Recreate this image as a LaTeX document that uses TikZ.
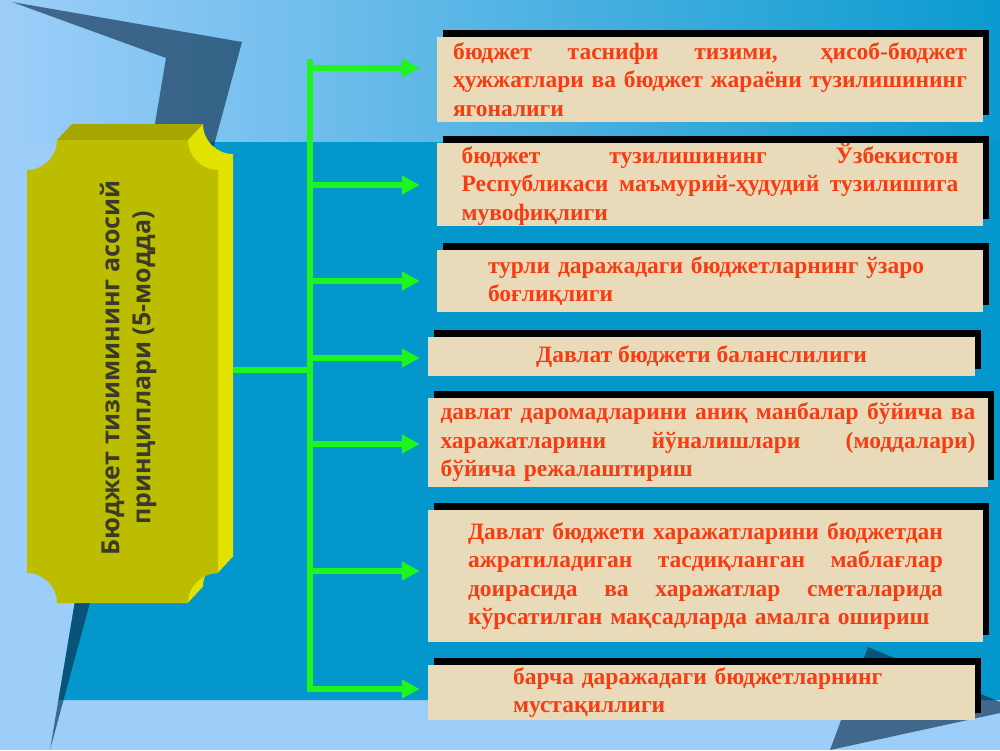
\documentclass[tikz,border=0pt]{standalone}
\usepackage{fontspec}
\usetikzlibrary{arrows.meta,shadows}
\newfontfamily\boxfont{Liberation Serif}
\newfontfamily\yfont{Open Sans}
\definecolor{lightbg}{HTML}{9DCEF9}
\definecolor{topdark}{HTML}{0A9ACF}
\definecolor{midblue}{HTML}{0397CB}
\definecolor{wedgec}{HTML}{0A2A48}
\definecolor{yfront}{HTML}{BDBD00}
\definecolor{ytop}{HTML}{A6A600}
\definecolor{yside}{HTML}{E2E200}
\definecolor{ytextc}{HTML}{3A3A2A}
\definecolor{beige}{HTML}{E9DBB9}
\definecolor{redtxt}{HTML}{F53C12}
\definecolor{conngreen}{HTML}{1DF51D}
\newcommand{\jl}[2]{\leavevmode\hbox to #1{\spaceskip=0.25em plus 1fil\relax\xspaceskip=0.25em plus 1fil\relax #2}}
\newcommand{\yshapepath}{(57,140) -- (188,140) arc[start angle=180,end angle=90,radius=30] -- (218,573) arc[start angle=270,end angle=180,radius=30] -- (57,603) arc[start angle=0,end angle=-90,radius=30] -- (27,170) arc[start angle=90,end angle=0,radius=30] -- cycle}
\begin{document}
\begin{tikzpicture}[x=1pt,y=-1pt,
  pbox/.style={fill=beige, inner sep=0pt, text=redtxt,
    font=\boxfont\bfseries\fontsize{23.5}{28.5}\selectfont, align=left,
    general shadow={fill=black, shadow xshift=6pt, shadow yshift=7pt}},
  conn/.style={draw=conngreen, line width=6pt},
  arr/.style={conn, -{Triangle[length=18pt,width=18pt]}},
  wedge/.style={fill=wedgec, opacity=0.62}
]
\useasboundingbox (0,0) rectangle (1000,750);
% background
\fill[lightbg] (0,0) rectangle (1000,750);
\shade[left color=lightbg, right color=topdark] (0,0) rectangle (1000,142);
\fill[midblue] (152,142) -- (1000,142) -- (1000,700) -- (58.4,700) -- cycle;
\fill[wedge] (12,2) -- (242,42) -- (50,750) -- (166,58) -- cycle;
\fill[wedge] (868,647) -- (1000,702) -- (1000,713) -- (830,750) -- cycle;
% yellow plaque
\begin{scope}
  \clip (186,100) rectangle (260,620);
  \foreach \i in {0,1,...,16} {\fill[yside, shift={({15*\i/16},{-\i})}] \yshapepath;}
\end{scope}
\fill[ytop] (57,140) -- (188,140) -- (203,124) -- (72,124) -- cycle;
\fill[yfront] \yshapepath;
\node[minimum width=206pt, minimum height=479pt, inner sep=0pt] (ybox) at (130,364.5) {};
\node[rotate=90, font=\yfont\bfseries\fontsize{25}{31}\selectfont, text=ytextc, align=center] (ytxt) at (128,368) {Бюджет тизимининг асосий\\принциплари (5-модда)};
% boxes
\node[pbox, minimum width=546pt, minimum height=85pt, text width=514pt] (b1) at (710,79.5)
  {\jl{514pt}{бюджет таснифи тизими, ҳисоб-бюджет}\\\jl{514pt}{ҳужжатлари ва бюджет жараёни тузилишининг}\\ягоналиги};
\node[pbox, minimum width=546pt, minimum height=83pt, text width=497pt] (b2) at (710,184.5)
  {\jl{497pt}{бюджет тузилишининг Ўзбекистон}\\\jl{497pt}{Республикаси маъмурий-ҳудудий тузилишига}\\мувофиқлиги};
\node[pbox, minimum width=546pt, minimum height=62pt, text width=444pt] (b3) at (710,281)
  {\mbox{турли даражадаги бюджетларнинг ўзаро}\\боғлиқлиги};
\node[pbox, minimum width=547pt, minimum height=39pt] (b4) at (701.5,356.5)
  {Давлат бюджети баланслилиги};
\node[pbox, minimum width=560pt, minimum height=89pt, text width=535pt] (b5) at (708,442.5)
  {\jl{535pt}{давлат даромадларини аниқ манбалар бўйича ва}\\\jl{535pt}{харажатларини йўналишлари (моддалари)}\\бўйича режалаштириш};
\node[pbox, minimum width=555pt, minimum height=132pt, text width=475pt] (b6) at (705.5,576)
  {\jl{475pt}{Давлат бюджети харажатларини бюджетдан}\\\jl{475pt}{ажратиладиган тасдиқланган маблағлар}\\\jl{475pt}{доирасида ва харажатлар сметаларида}\\кўрсатилган мақсадларда амалга ошириш};
\node[pbox, minimum width=547pt, minimum height=55pt, text width=377pt] (b7) at (701.5,692.5)
  {\mbox{барча даражадаги бюджетларнинг}\\мустақиллиги};
% connectors
\coordinate (jt) at (310,59);
\coordinate (jb) at (310,692);
\coordinate (jm) at (310,370);
\coordinate (j1) at (310,68);
\coordinate (j2) at (310,185);
\coordinate (j3) at (310,281);
\coordinate (j4) at (310,358);
\coordinate (j5) at (310,444);
\coordinate (j6) at (310,571);
\coordinate (j7) at (310,689);
\draw[conn] (jt) -- (jb);
\draw[conn] (ybox.east |- jm) -- (jm);
\draw[arr, shorten >=17pt] (j1) -- (j1 -| b1.west);
\draw[arr, shorten >=17pt] (j2) -- (j2 -| b2.west);
\draw[arr, shorten >=17pt] (j3) -- (j3 -| b3.west);
\draw[arr, shorten >=8pt] (j4) -- (j4 -| b4.west);
\draw[arr, shorten >=8pt] (j5) -- (j5 -| b5.west);
\draw[arr, shorten >=8pt] (j6) -- (j6 -| b6.west);
\draw[arr, shorten >=8pt] (j7) -- (j7 -| b7.west);
\end{tikzpicture}
\end{document}
